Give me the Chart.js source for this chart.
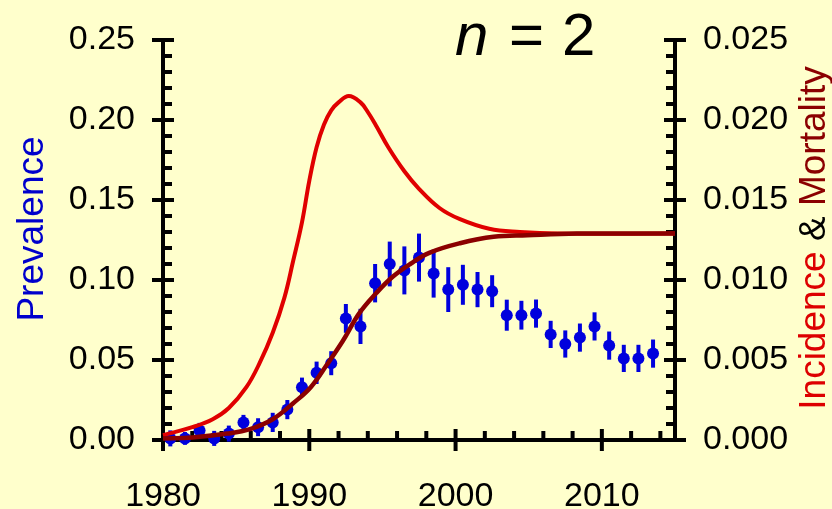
<!DOCTYPE html>
<html>
<head>
<meta charset="utf-8">
<script src="https://cdn.jsdelivr.net/npm/chart.js@4.4.0/dist/chart.umd.min.js"></script>
<style>
    html, body { margin: 0; padding: 0; background: #FFFFCC; }
    canvas { display: block; }
</style>
</head>
<body>
<canvas id="chart" width="832" height="509"></canvas>
<script>
// prevalence survey points (left axis)
var years = [1980.5, 1981.5, 1982.5, 1983.5, 1984.5, 1985.5, 1986.5, 1987.5, 1988.5, 1989.5,
    1990.5, 1991.5, 1992.5, 1993.5, 1994.5, 1995.5, 1996.5, 1997.5, 1998.5, 1999.5,
    2000.5, 2001.5, 2002.5, 2003.5, 2004.5, 2005.5, 2006.5, 2007.5, 2008.5, 2009.5,
    2010.5, 2011.5, 2012.5, 2013.5];
var prevalence = [0.001, 0.001, 0.006, 0.001, 0.004, 0.011, 0.008, 0.011, 0.019, 0.033,
    0.042, 0.048, 0.076, 0.071, 0.098, 0.110, 0.106, 0.114, 0.104, 0.094,
    0.097, 0.094, 0.093, 0.078, 0.078, 0.079, 0.066, 0.060, 0.064, 0.071,
    0.059, 0.051, 0.051, 0.054];
var prevErr = [0.005, 0.004, 0.0047, 0.0047, 0.005, 0.0047, 0.0056, 0.006, 0.006, 0.006,
    0.007, 0.0075, 0.009, 0.011, 0.012, 0.014, 0.015, 0.015, 0.015, 0.014,
    0.0125, 0.011, 0.010, 0.0097, 0.009, 0.0088, 0.0085, 0.0085, 0.0088, 0.0088,
    0.0088, 0.0085, 0.0085, 0.0088];

// model curves (right axis)
var incYears = [1980, 1982, 1983.4, 1984.5, 1985.7, 1986.6, 1987.5, 1988.3, 1988.9, 1989.5,
    1990.0, 1990.5, 1991.0, 1991.5, 1992.0, 1992.7, 1993.5, 1994.0, 1994.6, 1995.4,
    1996.5, 1997.5, 1998.9, 2000.3, 2002.3, 2004.4, 2007, 2015];
var incidence = [0.0003, 0.0008, 0.0013, 0.002, 0.0033, 0.0048, 0.0067, 0.0089, 0.0112, 0.0136,
    0.0162, 0.0183, 0.0197, 0.0206, 0.0211, 0.0215, 0.0211, 0.0205, 0.0196, 0.0183,
    0.0168, 0.0157, 0.0145, 0.0138, 0.0132, 0.0130, 0.0129, 0.0129];
var morYears = [1980, 1982, 1984.4, 1986, 1987.5, 1988.9, 1990.1, 1991.2, 1992.3, 1993.4,
    1994.6, 1995.7, 1996.9, 1998.2, 2000.3, 2002.6, 2004.9, 2008.3, 2015];
var mortality = [0.0001, 0.00016, 0.0004, 0.0007, 0.0013, 0.0023, 0.0033, 0.0047, 0.0062, 0.0079,
    0.0092, 0.0102, 0.0110, 0.0117, 0.0123, 0.0127, 0.0128, 0.0129, 0.0129];

// tick labels
var xTicks = [1980, 1990, 2000, 2010];
var yTicks = [0, 0.05, 0.10, 0.15, 0.20, 0.25];
var y2Ticks = [0, 0.005, 0.010, 0.015, 0.020, 0.025];

var FONT = '"Liberation Sans", Arial, sans-serif';

function pts(xs, ys) {
    return xs.map(function (v, i) { return {x: v, y: ys[i]}; });
}
function line(ctx, x1, y1, x2, y2) {
    ctx.beginPath();
    ctx.moveTo(x1, y1);
    ctx.lineTo(x2, y2);
    ctx.stroke();
}

// axes with crossing major ticks and inward minor ticks, plus error bars
var axesPlugin = {
    id: 'axes',
    beforeDatasetsDraw: function (chart) {
        var ctx = chart.ctx, x = chart.scales.x, y = chart.scales.y;
        var xl = x.getPixelForValue(1980), xr = x.getPixelForValue(2015);
        var yb = y.getPixelForValue(0), yt = y.getPixelForValue(0.25);
        ctx.save();
        ctx.strokeStyle = '#000';
        ctx.lineWidth = 4;
        line(ctx, xl, yt - 2, xl, yb + 11);
        line(ctx, xr, yt - 2, xr, yb);
        line(ctx, xl - 11, yb, xr + 11, yb);
        for (var k = 0; k <= 25; k++) {
            var py = y.getPixelForValue(k / 100);
            if (k % 5 === 0) {
                line(ctx, xl - 11, py, xl + 11, py);
                line(ctx, xr - 11, py, xr + 11, py);
            } else {
                line(ctx, xl, py, xl + 9, py);
                line(ctx, xr - 9, py, xr, py);
            }
        }
        for (var yr = 1982; yr < 2015; yr += 2) {
            var px = x.getPixelForValue(yr);
            if (yr % 10 === 0) line(ctx, px, yb - 11, px, yb + 11);
            else line(ctx, px, yb, px, yb - 9);
        }
        // error bars
        ctx.strokeStyle = '#0000DD';
        ctx.lineWidth = 4;
        for (var i = 0; i < years.length; i++) {
            var bx = x.getPixelForValue(years[i]);
            line(ctx, bx, y.getPixelForValue(prevalence[i] - prevErr[i]),
                bx, y.getPixelForValue(prevalence[i] + prevErr[i]));
        }
        ctx.restore();
    },
    afterDraw: function (chart) {
        var ctx = chart.ctx;
        ctx.save();
        ctx.textBaseline = 'alphabetic';
        ctx.textAlign = 'left';
        ctx.fillStyle = '#000';
        // title n = 2
        ctx.font = 'italic 60px ' + FONT;
        ctx.fillText('n', 455, 55);
        ctx.font = '60px ' + FONT;
        ctx.fillText('=', 509, 55);
        ctx.fillText('2', 562, 55);

        // left axis title
        ctx.font = '37px ' + FONT;
        ctx.save();
        ctx.translate(43, 229);
        ctx.rotate(-Math.PI / 2);
        ctx.textAlign = 'center';
        ctx.fillStyle = '#0000CC';
        ctx.fillText('Prevalence', 0, 0);
        ctx.restore();

        // right axis title, three colours
        var parts = [['Incidence ', '#DD0000'], ['&', '#000000'], [' Mortality', '#8B0000']];
        var total = 0;
        parts.forEach(function (p) { total += ctx.measureText(p[0]).width; });
        ctx.translate(825, 238);
        ctx.rotate(-Math.PI / 2);
        var pos = -total / 2;
        parts.forEach(function (p) {
            ctx.fillStyle = p[1];
            ctx.fillText(p[0], pos, 0);
            pos += ctx.measureText(p[0]).width;
        });
        ctx.restore();
    }
};

var tickFont = {family: FONT, size: 34};

function fixVertical(width) {
    return function (s) {
        s.width = width;
        s.paddingTop = 0;
        s.paddingBottom = 0;
    };
}

var chart = new Chart(document.getElementById('chart').getContext('2d'), {
    type: 'scatter',
    data: {
        datasets: [
            {
                label: 'Mortality',
                data: pts(morYears, mortality),
                yAxisID: 'y2',
                showLine: true,
                borderColor: '#8B0000',
                borderWidth: 4.5,
                pointRadius: 0,
                tension: 0.4,
                clip: false
            },
            {
                label: 'Incidence',
                data: pts(incYears, incidence),
                yAxisID: 'y2',
                showLine: true,
                borderColor: '#E00000',
                borderWidth: 4,
                pointRadius: 0,
                tension: 0.4,
                clip: false
            },
            {
                label: 'Prevalence',
                data: pts(years, prevalence),
                yAxisID: 'y',
                backgroundColor: '#0000DD',
                borderWidth: 0,
                pointRadius: 6,
                clip: false
            }
        ]
    },
    options: {
        responsive: false,
        devicePixelRatio: 1,
        animation: false,
        layout: {padding: {top: 40, left: 0, right: 0, bottom: 0}},
        plugins: {legend: {display: false}, tooltip: {enabled: false}},
        scales: {
            x: {
                type: 'linear',
                min: 1980,
                max: 2015,
                grid: {display: false, drawTicks: false},
                border: {display: false},
                afterBuildTicks: function (s) { s.ticks = xTicks.map(function (v) { return {value: v}; }); },
                afterFit: function (s) { s.height = 69; },
                ticks: {
                    font: tickFont, color: '#000', padding: 36, maxRotation: 0, autoSkip: false,
                    callback: function (v) { return String(v); }
                }
            },
            y: {
                position: 'left',
                min: 0,
                max: 0.25,
                grid: {display: false, drawTicks: false},
                border: {display: false},
                afterBuildTicks: function (s) { s.ticks = yTicks.map(function (v) { return {value: v}; }); },
                afterFit: fixVertical(163),
                ticks: {
                    font: tickFont, color: '#000', padding: 28, autoSkip: false,
                    callback: function (v) { return Number(v).toFixed(2); }
                }
            },
            y2: {
                position: 'right',
                min: 0,
                max: 0.025,
                grid: {display: false, drawTicks: false},
                border: {display: false},
                afterBuildTicks: function (s) { s.ticks = y2Ticks.map(function (v) { return {value: v}; }); },
                afterFit: fixVertical(157),
                ticks: {
                    font: tickFont, color: '#000', padding: 28, autoSkip: false,
                    callback: function (v) { return Number(v).toFixed(3); }
                }
            }
        }
    },
    plugins: [axesPlugin]
});
</script>
</body>
</html>
